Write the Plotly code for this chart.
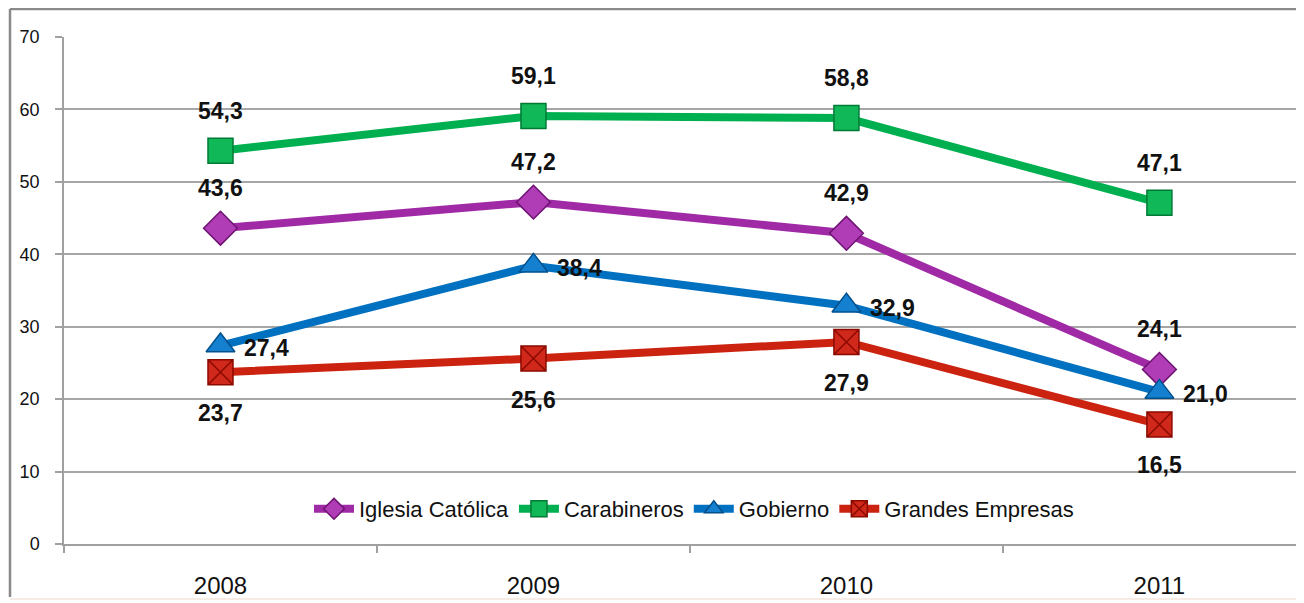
import plotly.graph_objects as go

years = ["2008", "2009", "2010", "2011"]
iglesia = [43.6, 47.2, 42.9, 24.1]
carabineros = [54.3, 59.1, 58.8, 47.1]
gobierno = [27.4, 38.4, 32.9, 21.0]
grandes = [23.7, 25.6, 27.9, 16.5]
y_ticks = [0, 10, 20, 30, 40, 50, 60, 70]

FONT = "Liberation Sans, Arial, sans-serif"

series = [
    ("Iglesia Católica", iglesia, "#a02aa6", "diamond", 26, "#b03cb6", "#6e1272", "top"),
    ("Carabineros", carabineros, "#00b050", "square", 25, "#10b858", "#007a36", "top"),
    ("Gobierno", gobierno, "#0070c0", "triangle-up", 25, "#1580d0", "#00508c", "right"),
    ("Grandes Empresas", grandes, "#cc2210", "square-x", 25, "#d0281a", "#8b0a00", "bottom"),
]

fig = go.Figure()
annotations = []
for name, vals, col, sym, size, fill, edge, pos in series:
    fig.add_trace(go.Scatter(
        x=years, y=vals, name=name, mode="lines+markers",
        line=dict(color=col, width=8),
        marker=dict(symbol=sym, size=size, color=fill, line=dict(color=edge, width=1.5)),
    ))
    for i, yv in enumerate(vals):
        label = f"{yv:.1f}".replace(".", ",")
        a = dict(x=i, y=yv, xref="x", yref="y", text=f"<b>{label}</b>", showarrow=False,
                 font=dict(family=FONT, size=23, color="#111111"))
        if pos == "top":
            a["yshift"] = 40
        elif pos == "bottom":
            a["yshift"] = -41
        else:
            a["xshift"] = 46
            a["yshift"] = -2
        annotations.append(a)

# page has an 8px body margin: figure occupies pixels 8..1304 x 8..603
W, H = 1296, 595
L, T = 56, 29
B = 8 + H - 544
PW = W - L
PH = 544 - 37

border = "#8a8a8a"
fig.update_layout(
    width=W, height=H,
    margin=dict(l=L, r=0, t=T, b=B, pad=0),
    paper_bgcolor="white", plot_bgcolor="white",
    showlegend=True,
    legend=dict(orientation="h", x=(694 - 64) / PW, y=(544 - 509) / PH, xanchor="center", yanchor="middle",
                font=dict(family=FONT, size=22, color="#111111"),
                itemwidth=40, bgcolor="rgba(0,0,0,0)", traceorder="normal",
                tracegroupgap=0),
    annotations=annotations,
    xaxis=dict(type="category", range=[-0.5, 3.462], showgrid=False,
               tickson="boundaries", ticks="outside", ticklen=7, tickcolor="#a0a0a0", tickwidth=1.5,
               showline=True, linecolor="#a0a0a0", linewidth=1.5,
               tickfont=dict(family=FONT, size=24, color="#111111"),
               ticklabelstandoff=19, fixedrange=True),
    yaxis=dict(range=[0, 70], tickvals=y_ticks, showgrid=True, gridcolor="#a6a6a6", gridwidth=1.5,
               zeroline=False, ticks="outside", ticklen=7, tickcolor="#a0a0a0", tickwidth=1.5,
               showline=True, linecolor="#a0a0a0", linewidth=1.5,
               tickfont=dict(family=FONT, size=18, color="#111111"),
               ticklabelstandoff=12, fixedrange=True),
    shapes=[
        dict(type="line", xref="paper", yref="paper",
             x0=(10 - 64) / PW, x1=1.02, y0=(544 - 9) / PH, y1=(544 - 9) / PH,
             line=dict(color=border, width=2.5), layer="below"),
        dict(type="line", xref="paper", yref="paper",
             x0=(10 - 64) / PW, x1=(10 - 64) / PW, y0=(544 - 597) / PH, y1=(544 - 9) / PH,
             line=dict(color=border, width=2.5), layer="below"),
        dict(type="line", xref="paper", yref="paper",
             x0=(10 - 64) / PW, x1=1.02, y0=(544 - 599) / PH, y1=(544 - 599) / PH,
             line=dict(color="#f3e6dc", width=1.5), layer="below"),
    ],
)

fig.write_html("out.html")
